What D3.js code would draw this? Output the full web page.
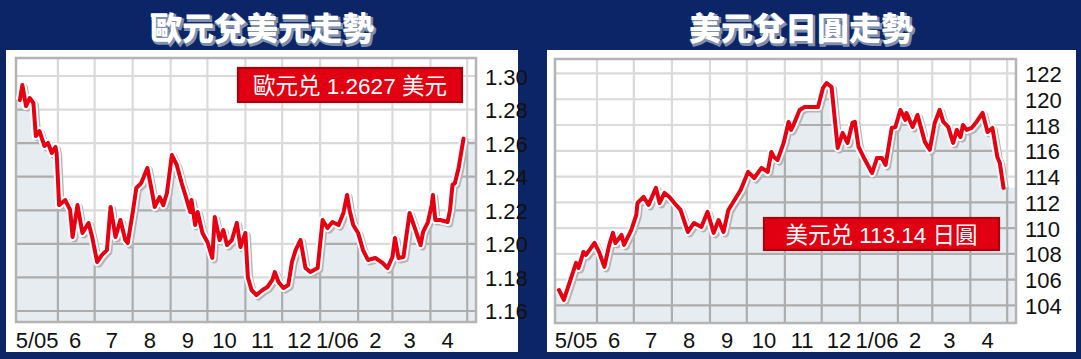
<!DOCTYPE html>
<html><head><meta charset="utf-8">
<script src="https://cdn.jsdelivr.net/npm/d3@7"></script>
<style>html,body{margin:0;padding:0;background:#0b2566;}svg{display:block}</style>
</head><body>
<svg id="c" width="1081" height="359"></svg>
<script>
// ---------- data ----------
const monthLabels = ["5/05","6","7","8","9","10","11","12","1/06","2","3","4"];
const eurTicks = [1.16,1.18,1.20,1.22,1.24,1.26,1.28,1.30];
const jpyTicks = [104,106,108,110,112,114,116,118,120,122];
const eurTitle = "歐元兌美元走勢";
const jpyTitle = "美元兌日圓走勢";
const eurLegend = "歐元兑 1.2627 美元";
const jpyLegend = "美元兑 113.14 日圓";

const eurDates = ["2005-05-01","2005-05-03","2005-05-06","2005-05-09","2005-05-12","2005-05-14","2005-05-17","2005-05-21","2005-05-24","2005-05-27","2005-05-30","2005-05-31",
"2005-06-02","2005-06-04","2005-06-07","2005-06-11","2005-06-13","2005-06-17","2005-06-21","2005-06-26","2005-06-29",
"2005-07-03","2005-07-07","2005-07-11","2005-07-14","2005-07-18","2005-07-22","2005-07-26","2005-07-28",
"2005-08-01","2005-08-04","2005-08-08","2005-08-13","2005-08-17","2005-08-19","2005-08-23","2005-08-26","2005-08-29",
"2005-09-02","2005-09-06","2005-09-10","2005-09-13","2005-09-17","2005-09-18","2005-09-21","2005-09-23","2005-09-27",
"2005-10-01","2005-10-05","2005-10-07","2005-10-11","2005-10-14","2005-10-17","2005-10-21","2005-10-25","2005-10-28",
"2005-11-01","2005-11-03","2005-11-06","2005-11-10","2005-11-15","2005-11-19","2005-11-23","2005-11-25","2005-11-28",
"2005-12-02","2005-12-06","2005-12-09","2005-12-12","2005-12-16","2005-12-20","2005-12-24","2005-12-30",
"2006-01-03","2006-01-07","2006-01-11","2006-01-16","2006-01-20","2006-01-23","2006-01-25","2006-01-28",
"2006-02-01","2006-02-05","2006-02-09","2006-02-15","2006-02-21","2006-02-25",
"2006-03-01","2006-03-03","2006-03-06","2006-03-10","2006-03-15","2006-03-19","2006-03-24","2006-03-26","2006-03-30",
"2006-04-02","2006-04-03","2006-04-05","2006-04-09","2006-04-15","2006-04-17","2006-04-19","2006-04-21","2006-04-24","2006-04-28"];
const eurValues = [1.2857,1.2946,1.2821,1.2869,1.2839,1.2643,1.2672,1.2583,1.2601,1.2541,1.2577,1.2541,
1.2231,1.2243,1.2261,1.2202,1.2041,1.2231,1.2065,1.2124,1.2041,
1.1892,1.1934,1.1963,1.2220,1.2041,1.2142,1.2023,1.2005,
1.2184,1.2333,1.2362,1.2452,1.2303,1.2220,1.2279,1.2231,1.2303,
1.2529,1.2470,1.2362,1.2291,1.2190,1.2261,1.2112,1.2190,1.2065,
1.2011,1.1916,1.2160,1.2023,1.2082,1.1993,1.2023,1.2124,1.1981,
1.2065,1.1802,1.1725,1.1695,1.1725,1.1743,1.1785,1.1832,1.1773,
1.1737,1.1755,1.1892,1.1963,1.2023,1.1856,1.1832,1.1856,
1.2142,1.2094,1.2130,1.2112,1.2184,1.2291,1.2202,1.2112,
1.2065,1.1963,1.1904,1.1916,1.1886,1.1856,
1.1922,1.2035,1.1916,1.1922,1.2184,1.2100,1.1993,1.2071,1.2130,
1.2231,1.2291,1.2142,1.2142,1.2130,1.2202,1.2351,1.2362,1.2452,1.2627];

const jpyDates = ["2005-05-01","2005-05-05","2005-05-15","2005-05-17","2005-05-21","2005-05-23","2005-05-26","2005-05-30",
"2005-06-03","2005-06-07","2005-06-11","2005-06-14","2005-06-16","2005-06-21","2005-06-23","2005-06-29",
"2005-07-03","2005-07-04","2005-07-09","2005-07-13","2005-07-19","2005-07-22","2005-07-26","2005-07-30",
"2005-08-03","2005-08-08","2005-08-14","2005-08-19","2005-08-25","2005-08-30",
"2005-09-04","2005-09-08","2005-09-12","2005-09-16","2005-09-20","2005-09-26",
"2005-10-02","2005-10-07","2005-10-13","2005-10-18","2005-10-21","2005-10-23","2005-10-26","2005-10-29","2005-10-31",
"2005-11-04","2005-11-06","2005-11-08","2005-11-13","2005-11-17","2005-11-28",
"2005-12-02","2005-12-05","2005-12-09","2005-12-14","2005-12-18","2005-12-22","2005-12-26","2005-12-28","2005-12-31",
"2006-01-04","2006-01-11","2006-01-15","2006-01-19","2006-01-22","2006-01-27","2006-01-30",
"2006-02-03","2006-02-07","2006-02-08","2006-02-13","2006-02-17","2006-02-23","2006-02-27",
"2006-03-03","2006-03-07","2006-03-10","2006-03-14","2006-03-18","2006-03-21","2006-03-24","2006-03-26","2006-03-29",
"2006-04-02","2006-04-06","2006-04-11","2006-04-15","2006-04-19","2006-04-23","2006-04-25","2006-04-28"];
const jpyValues = [105.20,104.43,107.30,106.91,108.15,107.92,108.31,108.85,
108.07,106.99,108.70,109.63,108.85,109.47,108.70,109.86,
111.02,111.95,112.42,111.80,113.12,111.95,112.73,112.42,
111.95,111.41,109.70,110.40,110.09,111.26,
109.63,110.63,109.70,111.41,112.03,112.96,
114.36,113.89,114.67,114.36,115.91,115.52,115.29,116.07,116.61,
118.24,117.62,118.00,119.17,119.40,119.40,
120.88,121.26,120.95,116.22,117.38,116.61,118.16,118.24,116.30,
115.52,114.28,115.44,115.44,114.90,117.77,117.85,
119.17,118.39,118.94,117.85,118.78,116.69,116.07,
118.16,119.17,118.24,117.85,116.61,117.62,117.07,118.00,117.62,
117.77,118.24,118.94,117.46,117.77,115.52,115.06,113.14];

// ---------- drawing ----------
const parse = d3.utcParse("%Y-%m-%d");
const svg = d3.select("#c");
const NAVY = "#0b2566", RED = "#e60012";
const FONT = "'Liberation Sans', Arial, 'Noto Sans CJK TC', sans-serif";

svg.append("rect").attr("width",1081).attr("height",359).attr("fill",NAVY);

const domain = [parse("2005-04-27"), parse("2006-05-09")];
const gridMonths = d3.utcMonth.range(parse("2005-06-01"), parse("2006-05-02"));
const labelMonths = d3.utcMonth.range(parse("2005-05-01"), parse("2006-05-01"));

function drawChart(o) {
  const g = svg.append("g");
  g.append("rect").attr("x",o.panel[0]).attr("y",o.panel[1]).attr("width",o.panel[2]).attr("height",o.panel[3]).attr("fill","#fff");
  // title with outline shadow
  g.append("text").attr("x",o.titleX+1.5).attr("y",41.5).attr("text-anchor","middle")
    .attr("font-family","'Noto Sans CJK TC', sans-serif").attr("font-weight",900).attr("font-size",32)
    .attr("fill","#7f8fae").attr("stroke","#7f8fae").attr("stroke-width",2).text(o.title);
  g.append("text").attr("x",o.titleX).attr("y",40).attr("text-anchor","middle")
    .attr("font-family","'Noto Sans CJK TC', sans-serif").attr("font-weight",900).attr("font-size",32)
    .attr("fill","#fff").text(o.title);

  const x = d3.scaleUtc().domain(domain).range([o.left, o.right]);
  const y = d3.scaleLinear().domain(o.yDomain).range([o.bottom, o.top]);
  const data = o.dates.map((d,i)=>({date:parse(d), value:o.values[i]}));

  g.append("rect").attr("x",o.left).attr("y",o.top).attr("width",o.right-o.left).attr("height",o.bottom-o.top).attr("fill","#fff");

  function grid(sel, color) {
    sel.selectAll("line.h").data(o.ticks).join("line").attr("class","h")
      .attr("x1",o.left).attr("x2",o.right).attr("y1",d=>y(d)).attr("y2",d=>y(d))
      .attr("stroke",color).attr("stroke-width",2.2);
    sel.selectAll("line.v").data(gridMonths).join("line").attr("class","v")
      .attr("y1",o.top).attr("y2",o.bottom).attr("x1",d=>x(d)).attr("x2",d=>x(d))
      .attr("stroke",color).attr("stroke-width",2.2);
  }
  grid(g.append("g"), "#dadada");

  const first = data[0], last = data[data.length-1];
  const ext = [{date:x.invert(o.left), value:first.value}, ...data, {date:x.invert(o.right), value:last.value}];
  const area = d3.area().x(d=>x(d.date)).y0(o.bottom).y1(d=>y(d.value));
  g.append("path").attr("d",area(ext)).attr("fill","#e7ecf1");
  const clipId = "clip"+o.id;
  g.append("clipPath").attr("id",clipId).append("path").attr("d",area(ext));
  grid(g.append("g").attr("clip-path",`url(#${clipId})`), "#adadad");

  g.append("rect").attr("x",o.left+1).attr("y",o.top+1).attr("width",o.right-o.left-2).attr("height",o.bottom-o.top-2)
    .attr("fill","none").attr("stroke","#b4b4b4").attr("stroke-width",2.5);

  const line = d3.line().x(d=>x(d.date)).y(d=>y(d.value)).curve(d3.curveLinear);
  g.append("path").attr("d",line(data)).attr("fill","none").attr("stroke","#b5b5b5").attr("stroke-width",7)
    .attr("stroke-linejoin","round").attr("transform","translate(2,2)");
  g.append("path").attr("d",line(data)).attr("fill","none").attr("stroke","#fff").attr("stroke-width",8)
    .attr("stroke-linejoin","round");
  g.append("path").attr("d",line(data)).attr("fill","none").attr("stroke",RED).attr("stroke-width",4)
    .attr("stroke-linejoin","round").attr("stroke-linecap","round");

  g.selectAll("text.yl").data(o.ticks).join("text").attr("class","yl")
    .attr("x",o.right+8).attr("y",d=>y(d)+1).attr("dominant-baseline","central")
    .attr("font-family",FONT).attr("font-size",22).attr("fill","#111")
    .text(d=>o.fmt(d));
  g.selectAll("text.xl").data(labelMonths).join("text").attr("class","xl")
    .attr("x",d=>x(d3.utcDay.offset(d,14))).attr("y",348).attr("text-anchor","middle")
    .attr("font-family",FONT).attr("font-size",22).attr("fill","#111")
    .text((d,i)=>monthLabels[i]);

  const b = o.box;
  g.append("rect").attr("x",b[0]+1).attr("y",b[1]+1).attr("width",b[2]-2).attr("height",b[3]-2)
    .attr("fill","#e00012").attr("stroke","#a8000c").attr("stroke-width",2.2);
  g.append("text").attr("x",b[0]+b[2]/2).attr("y",b[1]+b[3]/2+1).attr("text-anchor","middle").attr("dominant-baseline","central")
    .attr("font-family",FONT).attr("font-size",22.5).attr("fill","#fff").text(o.legend);
}

drawChart({id:"eur", panel:[6,50,512,302], titleX:262, title:eurTitle,
  left:15, right:477, top:57, bottom:323, yDomain:[1.15285,1.31132],
  ticks:eurTicks, fmt:d=>d.toFixed(2), dates:eurDates, values:eurValues,
  box:[237,67,226,36], legend:eurLegend});
drawChart({id:"jpy", panel:[547,50,529,302], titleX:801, title:jpyTitle,
  left:554, right:1017, top:58, bottom:324, yDomain:[102.56,123.20],
  ticks:jpyTicks, fmt:d=>String(d), dates:jpyDates, values:jpyValues,
  box:[763,217,237,34], legend:jpyLegend});
</script>
</body></html>
